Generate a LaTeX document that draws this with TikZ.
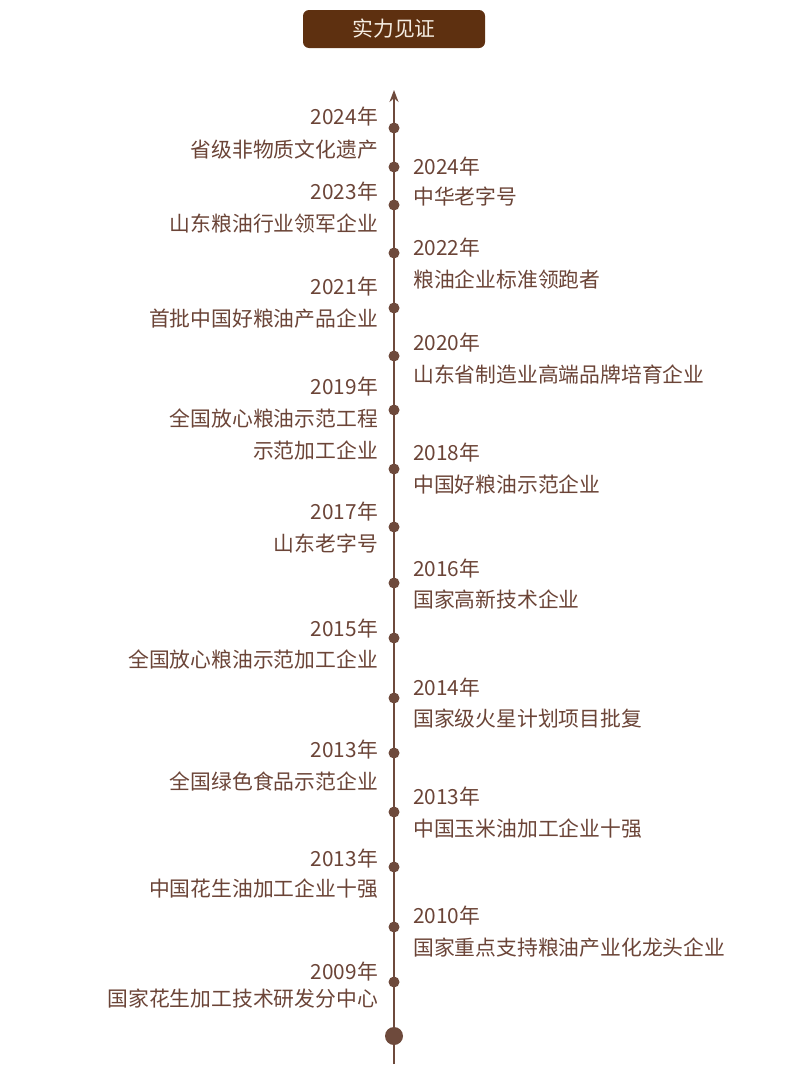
\documentclass[tikz,border=0pt]{standalone}
\usepackage{fontspec}
\setmainfont{Noto Sans CJK SC}
\usetikzlibrary{arrows.meta}
\definecolor{ink}{HTML}{6B4437}
\definecolor{stem}{HTML}{6E4A3C}
\definecolor{badge}{HTML}{5E3010}
\definecolor{cream}{HTML}{F5EDE2}
\tikzset{
  lbl/.style={font=\fontsize{20.8}{25}\selectfont,text=ink,inner sep=0pt,text height=.76em,text depth=0pt,yshift=-6pt},
  lft/.style={lbl,anchor=east},
  rgt/.style={lbl,anchor=west},
  milestone/.style={circle,fill=stem,inner sep=0pt,minimum size=11pt},
}
\begin{document}
\begin{tikzpicture}[x=1pt,y=-1pt]
\useasboundingbox (0,0) rectangle (790,1090);
\node[fill=badge,rounded corners=6pt,minimum width=182pt,minimum height=38pt,text=cream,font=\fontsize{20.8}{25}\selectfont] (title) at (394,29) {实力见证};
\coordinate (base) at (394,1064); \coordinate (tip) at (394,90);
\draw[stem,line width=2.2pt,-{Stealth[length=12pt,width=9pt]}] (base) -- (tip);
% left side
\node[milestone] (m2024a) at (394,128) {}; \node[lft] (y2024a) at (378,115) {2024年}; \node[lft] (t2024a) at (378,148) {省级非物质文化遗产};
\node[milestone] (m2023) at (394,205) {}; \node[lft] (y2023) at (378,190) {2023年}; \node[lft] (t2023) at (378,222) {山东粮油行业领军企业};
\node[milestone] (m2021) at (394,308) {}; \node[lft] (y2021) at (378,285) {2021年}; \node[lft] (t2021) at (378,317) {首批中国好粮油产品企业};
\node[milestone] (m2019) at (394,410) {}; \node[lft] (y2019) at (378,385) {2019年}; \node[lft] (t2019) at (378,417) {全国放心粮油示范工程};
  \node[lft] (u2019) at (378,449) {示范加工企业};
\node[milestone] (m2017) at (394,527) {}; \node[lft] (y2017) at (378,510) {2017年}; \node[lft] (t2017) at (378,542) {山东老字号};
\node[milestone] (m2015) at (394,638) {}; \node[lft] (y2015) at (378,627) {2015年}; \node[lft] (t2015) at (378,658) {全国放心粮油示范加工企业};
\node[milestone] (m2013a) at (394,753) {}; \node[lft] (y2013a) at (378,748) {2013年}; \node[lft] (t2013a) at (378,780) {全国绿色食品示范企业};
\node[milestone] (m2013c) at (394,867) {}; \node[lft] (y2013c) at (378,857) {2013年}; \node[lft] (t2013c) at (378,887) {中国花生油加工企业十强};
\node[milestone] (m2009) at (394,982) {}; \node[lft] (y2009) at (378,970) {2009年}; \node[lft] (t2009) at (378,997) {国家花生加工技术研发分中心};
% right side
\node[milestone] (m2024b) at (394,167) {}; \node[rgt] (y2024b) at (413,165) {2024年}; \node[rgt] (t2024b) at (413,195) {中华老字号};
\node[milestone] (m2022) at (394,253) {}; \node[rgt] (y2022) at (413,246) {2022年}; \node[rgt] (t2022) at (413,278) {粮油企业标准领跑者};
\node[milestone] (m2020) at (394,356) {}; \node[rgt] (y2020) at (413,341) {2020年}; \node[rgt] (t2020) at (413,373) {山东省制造业高端品牌培育企业};
\node[milestone] (m2018) at (394,469) {}; \node[rgt] (y2018) at (413,451) {2018年}; \node[rgt] (t2018) at (413,483) {中国好粮油示范企业};
\node[milestone] (m2016) at (394,583) {}; \node[rgt] (y2016) at (413,567) {2016年}; \node[rgt] (t2016) at (413,598) {国家高新技术企业};
\node[milestone] (m2014) at (394,698) {}; \node[rgt] (y2014) at (413,686) {2014年}; \node[rgt] (t2014) at (413,717) {国家级火星计划项目批复};
\node[milestone] (m2013b) at (394,812) {}; \node[rgt] (y2013b) at (413,795) {2013年}; \node[rgt] (t2013b) at (413,827) {中国玉米油加工企业十强};
\node[milestone] (m2010) at (394,927) {}; \node[rgt] (y2010) at (413,914) {2010年}; \node[rgt] (t2010) at (413,946) {国家重点支持粮油产业化龙头企业};
% start point
\node[milestone,minimum size=18pt] (origin) at (394,1036) {};
\end{tikzpicture}
\end{document}
